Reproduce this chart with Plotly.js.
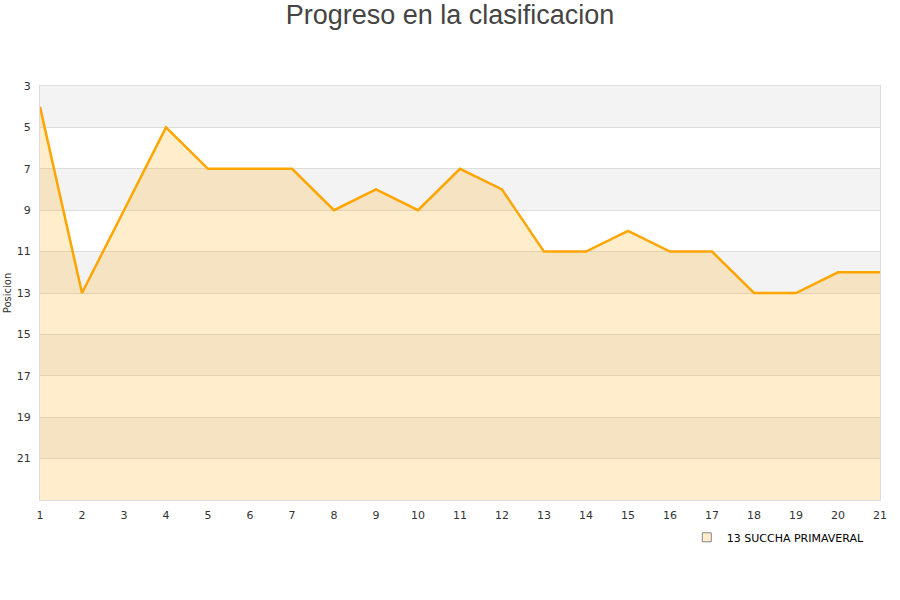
<!DOCTYPE html>
<html>
<head>
<meta charset="utf-8">
<script src="https://cdn.plot.ly/plotly-3.0.1.min.js"></script>
<style>
  html, body { margin: 0; padding: 0; background: #fff; }
  #chart { width: 900px; height: 600px; }
</style>
</head>
<body>
<div id="chart"></div>
<script>
// Jornadas and position of the team in each one
const jornadas = [1, 2, 3, 4, 5, 6, 7, 8, 9, 10, 11, 12, 13, 14, 15, 16, 17, 18, 19, 20, 21];
const posiciones = [4, 13, 9, 5, 7, 7, 7, 9, 8, 9, 7, 8, 11, 11, 10, 11, 11, 13, 13, 12, 12];
const teamName = '13 SUCCHA PRIMAVERAL';
const yTicks = [3, 5, 7, 9, 11, 13, 15, 17, 19, 21];
const yBottom = 23;
// shaded (grey) background bands of the plot area
const bandStarts = [3, 7, 11, 15, 19];

const baseline = jornadas.map(() => yBottom);

const traces = [
    {
        x: jornadas,
        y: baseline,
        mode: 'lines',
        line: { width: 0, color: 'rgba(0,0,0,0)' },
        hoverinfo: 'skip',
        showlegend: false
    },
    {
        x: jornadas,
        y: posiciones,
        mode: 'lines',
        name: teamName,
        fill: 'tonexty',
        fillcolor: 'rgba(255,165,0,0.2)',
        line: { color: '#FFA500', width: 2.5 },
        showlegend: false
    },
    // legend only: small square swatch
    {
        x: [null],
        y: [null],
        mode: 'markers',
        name: teamName,
        marker: { symbol: 'square', size: 9, color: '#FFECCC', line: { color: '#888', width: 1 } }
    }
];

const shapes = bandStarts.map(y0 => ({
    type: 'rect',
    xref: 'paper',
    yref: 'y',
    x0: 0, x1: 1,
    y0: y0, y1: y0 + 2,
    fillcolor: '#F3F3F3',
    line: { width: 0 },
    layer: 'below'
}));

const layout = {
    width: 900,
    height: 600,
    title: {
        text: 'Progreso en la clasificacion',
        font: { family: 'Liberation Sans, Arial, sans-serif', size: 27, color: '#444' },
        x: 0.5,
        xanchor: 'center',
        y: 0.975,
        yanchor: 'middle'
    },
    font: { family: 'DejaVu Sans, sans-serif', size: 11, color: '#333' },
    margin: { l: 40, r: 20, t: 86, b: 100 },
    paper_bgcolor: '#fff',
    plot_bgcolor: '#fff',
    shapes: shapes,
    xaxis: {
        range: [1, 21],
        tickvals: jornadas,
        ticks: '',
        showgrid: false,
        zeroline: false,
        showline: true,
        linecolor: '#DDDDDD',
        mirror: true,
        ticklabelstandoff: 5,
        tickfont: { size: 11, color: '#333' }
    },
    yaxis: {
        range: [yBottom, 3],
        tickvals: yTicks,
        ticks: '',
        showgrid: true,
        gridcolor: '#DDDDDD',
        zeroline: false,
        showline: true,
        linecolor: '#DDDDDD',
        mirror: true,
        ticklabelstandoff: 6,
        tickfont: { size: 11, color: '#333' },
        title: { text: 'Posicion', font: { size: 10, color: '#333' }, standoff: 3 }
    },
    showlegend: true,
    legend: {
        orientation: 'h',
        x: 0.77,
        y: -0.055,
        xanchor: 'left',
        yanchor: 'top',
        font: { size: 11, color: '#000' },
        bgcolor: 'rgba(0,0,0,0)'
    }
};

Plotly.newPlot('chart', traces, layout, { displayModeBar: false, staticPlot: true });
</script>
</body>
</html>
